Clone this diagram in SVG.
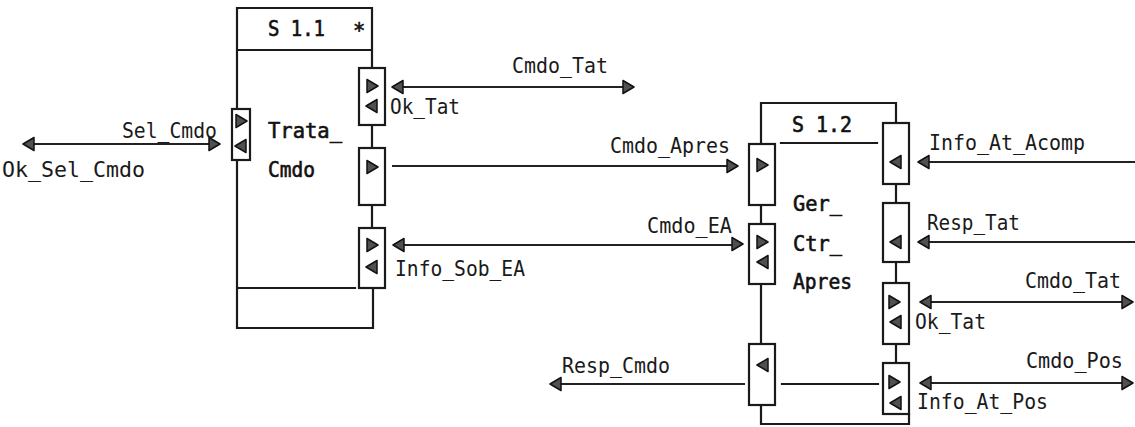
<svg xmlns="http://www.w3.org/2000/svg" xmlns:xlink="http://www.w3.org/1999/xlink" width="1135" height="427" viewBox="0 0 1135 427">
<style>
.bx{fill:none;stroke:#1a1a1a;stroke-width:2.2;stroke-linecap:square}
.pt{fill:#fff;stroke:#1a1a1a;stroke-width:2.2}
.ln{fill:none;stroke:#222;stroke-width:1.8}
.tri{fill:#505050;stroke:#111;stroke-width:1.5;stroke-linejoin:round}
.lb{font-family:"DejaVu Sans Mono","Liberation Mono",monospace;font-size:20.5px;fill:#1a1a1a}
.bd{font-family:"DejaVu Sans Mono","Liberation Mono",monospace;font-size:20.5px;fill:#111;stroke:#111;stroke-width:0.6}
</style>
<defs>
<polygon id="tr" class="tri" points="-5,-6.5 6,0 -5,6.5"/>
<polygon id="tl" class="tri" points="5,-6.5 -6,0 5,6.5"/>
</defs>
<rect width="1135" height="427" fill="#fff"/>

<g id="s11">
<path class="bx" d="M237,109 V8 H372 V68 M237,50 H372 M237,160 V328 H373 V288 M237,288 H355 M372,125 V148 M372,205 V228"/>
<text class="bd" x="268" y="36" textLength="57" lengthAdjust="spacingAndGlyphs">S 1.1</text>
<text class="bd" x="353" y="38">*</text>
<text class="bd" x="268" y="138" textLength="74" lengthAdjust="spacingAndGlyphs">Trata_</text>
<text class="bd" x="268" y="177" textLength="47" lengthAdjust="spacingAndGlyphs">Cmdo</text>
<g id="s11-p-sel">
<rect class="pt" x="232" y="109" width="18" height="51"/>
<use xlink:href="#tr" x="241" y="121"/>
<use xlink:href="#tl" x="241" y="146"/>
</g>
<g id="s11-p-tat">
<rect class="pt" x="359" y="68" width="26" height="57"/>
<use xlink:href="#tr" x="372" y="86"/>
<use xlink:href="#tl" x="372" y="106"/>
</g>
<g id="s11-p-apres">
<rect class="pt" x="359" y="148" width="26" height="57"/>
<use xlink:href="#tr" x="372" y="167"/>
</g>
<g id="s11-p-ea">
<rect class="pt" x="359" y="228" width="26" height="60"/>
<use xlink:href="#tr" x="372" y="245"/>
<use xlink:href="#tl" x="372" y="267"/>
</g>
</g>

<g id="s12">
<path class="bx" d="M761,144 V103 H896 V123 M781,143 H877 M761,205 V224 M761,284 V344 M761,405 V424 H909 V414 M896,184 V203 M896,262 V283 M896,344 V363 M782,384 H878"/>
<text class="bd" x="792" y="132" textLength="60" lengthAdjust="spacingAndGlyphs">S 1.2</text>
<text class="bd" x="793" y="211" textLength="49" lengthAdjust="spacingAndGlyphs">Ger_</text>
<text class="bd" x="793" y="251" textLength="49" lengthAdjust="spacingAndGlyphs">Ctr_</text>
<text class="bd" x="793" y="289" textLength="59" lengthAdjust="spacingAndGlyphs">Apres</text>
<g id="s12-p-apres">
<rect class="pt" x="749" y="144" width="26" height="61"/>
<use xlink:href="#tr" x="762" y="165"/>
</g>
<g id="s12-p-ea">
<rect class="pt" x="749" y="224" width="26" height="60"/>
<use xlink:href="#tr" x="762" y="242"/>
<use xlink:href="#tl" x="763" y="262"/>
</g>
<g id="s12-p-resp">
<rect class="pt" x="749" y="344" width="26" height="61"/>
<use xlink:href="#tl" x="763" y="365"/>
</g>
<g id="s12-p-acomp">
<rect class="pt" x="883" y="123" width="26" height="61"/>
<use xlink:href="#tl" x="896" y="162"/>
</g>
<g id="s12-p-resptat">
<rect class="pt" x="883" y="203" width="26" height="59"/>
<use xlink:href="#tl" x="896" y="242"/>
</g>
<g id="s12-p-tat">
<rect class="pt" x="883" y="283" width="26" height="61"/>
<use xlink:href="#tr" x="894" y="302"/>
<use xlink:href="#tl" x="896" y="322"/>
</g>
<g id="s12-p-pos">
<rect class="pt" x="883" y="363" width="26" height="51"/>
<use xlink:href="#tr" x="894" y="382"/>
<use xlink:href="#tl" x="896" y="403"/>
</g>
</g>

<g id="connectors">
<path class="ln" d="M29,144 H214"/>
<use xlink:href="#tl" x="29" y="144"/>
<use xlink:href="#tr" x="214" y="144"/>
<text class="lb" x="122" y="138" textLength="95" lengthAdjust="spacingAndGlyphs">Sel_Cmdo</text>
<text class="lb" x="2" y="177" textLength="143" lengthAdjust="spacingAndGlyphs">Ok_Sel_Cmdo</text>

<path class="ln" d="M398,87 H628"/>
<use xlink:href="#tl" x="398" y="87"/>
<use xlink:href="#tr" x="628" y="87"/>
<text class="lb" x="512" y="73" textLength="96" lengthAdjust="spacingAndGlyphs">Cmdo_Tat</text>
<text class="lb" x="390" y="114" textLength="70" lengthAdjust="spacingAndGlyphs">Ok_Tat</text>

<path class="ln" d="M392,166 H732"/>
<use xlink:href="#tr" x="732" y="166"/>
<text class="lb" x="610" y="153" textLength="120" lengthAdjust="spacingAndGlyphs">Cmdo_Apres</text>

<path class="ln" d="M399,245 H737"/>
<use xlink:href="#tl" x="399" y="245"/>
<use xlink:href="#tr" x="737" y="244"/>
<text class="lb" x="647" y="233" textLength="85" lengthAdjust="spacingAndGlyphs">Cmdo_EA</text>
<text class="lb" x="395" y="276" textLength="130" lengthAdjust="spacingAndGlyphs">Info_Sob_EA</text>

<path class="ln" d="M924,162 H1135"/>
<use xlink:href="#tl" x="924" y="162"/>
<text class="lb" x="929" y="150" textLength="156" lengthAdjust="spacingAndGlyphs">Info_At_Acomp</text>

<path class="ln" d="M924,242 H1135"/>
<use xlink:href="#tl" x="924" y="242"/>
<text class="lb" x="927" y="230" textLength="93" lengthAdjust="spacingAndGlyphs">Resp_Tat</text>

<path class="ln" d="M926,302 H1127"/>
<use xlink:href="#tl" x="926" y="302"/>
<use xlink:href="#tr" x="1127" y="302"/>
<text class="lb" x="1025" y="288" textLength="96" lengthAdjust="spacingAndGlyphs">Cmdo_Tat</text>
<text class="lb" x="915" y="329" textLength="71" lengthAdjust="spacingAndGlyphs">Ok_Tat</text>

<path class="ln" d="M926,383 H1127"/>
<use xlink:href="#tl" x="926" y="383"/>
<use xlink:href="#tr" x="1127" y="383"/>
<text class="lb" x="1026" y="368" textLength="97" lengthAdjust="spacingAndGlyphs">Cmdo_Pos</text>
<text class="lb" x="917" y="409" textLength="131" lengthAdjust="spacingAndGlyphs">Info_At_Pos</text>

<path class="ln" d="M556,384 H745"/>
<use xlink:href="#tl" x="556" y="384"/>
<text class="lb" x="562" y="373" textLength="108" lengthAdjust="spacingAndGlyphs">Resp_Cmdo</text>
</g>
</svg>
